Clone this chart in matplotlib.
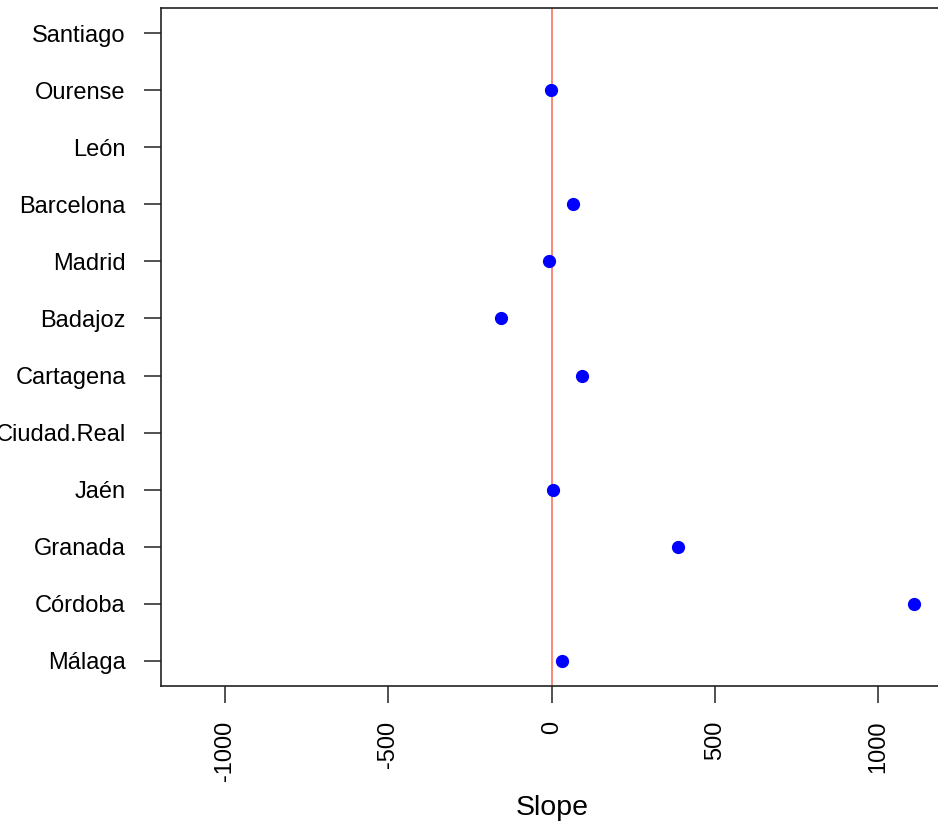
import numpy as np
import matplotlib.pyplot as plt

plt.rcParams['font.family'] = ['Liberation Sans', 'DejaVu Sans']

# bottom to top
cities = ['Málaga', 'Córdoba', 'Granada', 'Jaén', 'Ciudad.Real', 'Cartagena',
          'Badajoz', 'Madrid', 'Barcelona', 'León', 'Ourense', 'Santiago']
slopes = [31, 1108, 386, 3, np.nan, 92, -156, -9, 64, np.nan, -3, np.nan]
xticks = [-1000, -500, 0, 500, 1000]

fig = plt.figure(figsize=(9.38, 8.26), dpi=100)
W, H = 938, 826
ax = fig.add_axes([160.5 / W, 1 - 686 / H, (943 - 160.5) / W, (686 - 8) / H])

pos = np.arange(1, len(cities) + 1)
ax.axvline(0, color='#F86B55', lw=1.1, zorder=1)
ax.plot(slopes, pos, 'o', color='blue', markersize=8.5, linestyle='none', zorder=2)

ax.set_xlim(-1198, 1198)
ax.set_ylim(0.56, 12.44)
ax.set_yticks(pos)
ax.set_yticklabels(cities, fontsize=17)
ax.set_xticks(xticks)
ax.set_xticklabels([str(v) for v in xticks], rotation=90, fontsize=17)
ax.tick_params(axis='both', length=12, width=1.1, pad=13, color='#222222')
for s in ax.spines.values():
    s.set_linewidth(1.2)
    s.set_color('#222222')

ax.set_xlabel('Slope', fontsize=20.5)
ax.xaxis.set_label_coords((552 - 160.5) / (943 - 160.5), (686 - 808) / (686 - 8))
ax.xaxis.label.set_va('center')

fig.savefig('out.png', dpi=100)
